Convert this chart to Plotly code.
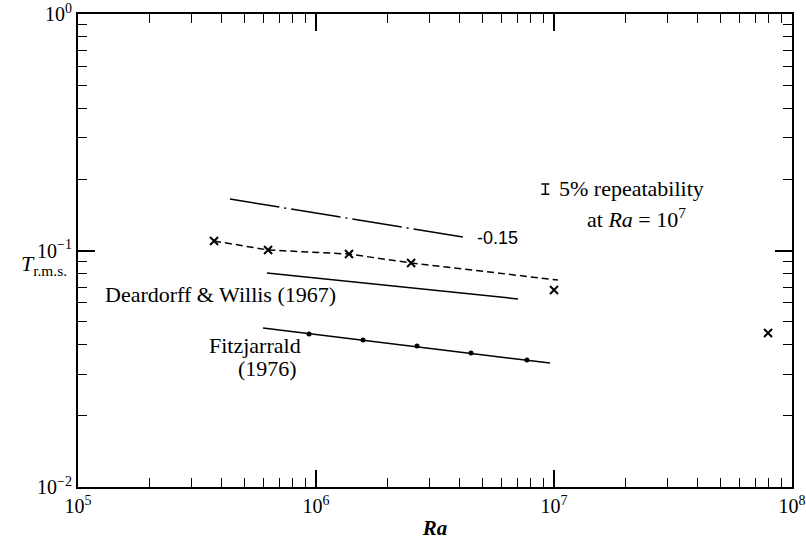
import numpy as np
import plotly.graph_objects as go

# ---- data ----
dashdot_x = [4.35e5, 4.15e6]
dashdot_y = [0.165, 0.114]

present_x = [3.73e5, 6.29e5, 1.376e6, 2.51e6]
present_y = [0.1097, 0.1005, 0.0966, 0.0886]
present_line_x = [3.73e5, 6.29e5, 1.376e6, 2.51e6, 1.039e7]
present_line_y = [0.1097, 0.1005, 0.0966, 0.0886, 0.0750]

dw_x = [6.22e5, 7.06e6]
dw_y = [0.0803, 0.0624]

fitz_line_x = [5.99e5, 9.62e6]
fitz_line_y = [0.0470, 0.03344]
fitz_x = [9.35e5, 1.576e6, 2.657e6, 4.48e6, 7.70e6]
fitz_y = [0.04436, 0.04183, 0.03947, 0.03686, 0.03443]

extra_x = [1.0e7, 7.93e7]
extra_y = [0.0681, 0.04478]

rep_x = [9.2e6]
rep_y = [0.182]

x_tickvals = [1e5, 1e6, 1e7, 1e8]
x_ticktext = ["10<sup>5</sup>", "10<sup>6</sup>", "10<sup>7</sup>", "10<sup>8</sup>"]
y_tickvals = [1e-2, 1e-1, 1e0]
y_ticktext = ["10<sup>−2</sup>", "10<sup>−1</sup>", "10<sup>0</sup>"]

x_minor = [m * 10 ** e for e in range(5, 8) for m in range(2, 10)]
y_minor = [m * 10.0 ** e for e in range(-2, 0) for m in range(2, 10)]

SERIF = "Liberation Serif"
fig = go.Figure()

fig.add_trace(go.Scatter(x=dashdot_x, y=dashdot_y, mode="lines",
                         line=dict(color="black", width=1.5, dash="50px,5px,2px,5px")))
fig.add_trace(go.Scatter(x=present_line_x, y=present_line_y, mode="lines",
                         line=dict(color="black", width=1.5, dash="7px,4px")))
fig.add_trace(go.Scatter(x=present_x, y=present_y, mode="markers",
                         marker=dict(symbol="x-thin", size=8, color="black",
                                     line=dict(width=2, color="black"))))
fig.add_trace(go.Scatter(x=dw_x, y=dw_y, mode="lines",
                         line=dict(color="black", width=1.5)))
fig.add_trace(go.Scatter(x=fitz_line_x, y=fitz_line_y, mode="lines",
                         line=dict(color="black", width=1.5)))
fig.add_trace(go.Scatter(x=fitz_x, y=fitz_y, mode="markers",
                         marker=dict(symbol="circle", size=5, color="black")))
fig.add_trace(go.Scatter(x=extra_x, y=extra_y, mode="markers",
                         marker=dict(symbol="x-thin", size=8, color="black",
                                     line=dict(width=2, color="black"))))
fig.add_trace(go.Scatter(x=rep_x, y=rep_y, mode="markers",
                         marker=dict(size=1, color="black"),
                         error_y=dict(type="percent", value=5, color="black",
                                      thickness=1.5, width=4)))

ax_common = dict(type="log", showgrid=False, zeroline=False, showline=True,
                 linecolor="black", linewidth=2, mirror="ticks", automargin=False,
                 ticks="inside", ticklen=17, tickwidth=1.5, tickcolor="black",
                 tickfont=dict(family=SERIF, size=20, color="black"),
                 tickmode="array")

fig.update_xaxes(**ax_common, range=[5, 8], tickvals=x_tickvals, ticktext=x_ticktext,
                 minor=dict(tickmode="array", tickvals=x_minor, ticks="inside",
                            ticklen=9, tickwidth=1.2, tickcolor="black"),
                 title=dict(text="<b><i>Ra</i></b>",
                            font=dict(family=SERIF, size=21, color="black"), standoff=4))
fig.update_yaxes(**ax_common, range=[-2, 0], tickvals=y_tickvals, ticktext=y_ticktext,
                 minor=dict(tickmode="array", tickvals=y_minor, ticks="inside",
                            ticklen=9, tickwidth=1.2, tickcolor="black"))

ann_font = dict(family=SERIF, size=22, color="black")
fig.add_annotation(x=np.log10(dashdot_x[1]), y=np.log10(dashdot_y[1]), xref="x", yref="y",
                   text="-0.15", showarrow=False, xanchor="left", xshift=12, yshift=-1,
                   font=dict(family="Liberation Sans", size=18, color="black"))
fig.add_annotation(x=5.597, y=-1.188, text="Deardorff &amp; Willis (1967)",
                   showarrow=False, font=ann_font)
fig.add_annotation(x=5.744, y=-1.400, text="Fitzjarrald", showarrow=False, font=ann_font)
fig.add_annotation(x=5.798, y=-1.497, text="(1976)", showarrow=False, font=ann_font)
fig.add_annotation(x=np.log10(rep_x[0]), y=np.log10(rep_y[0]), text="5% repeatability",
                   showarrow=False, xanchor="left", xshift=12, yshift=0, font=ann_font)
fig.add_annotation(x=np.log10(rep_x[0]), y=np.log10(rep_y[0]),
                   text="at <i>Ra</i> = 10<sup>7</sup>",
                   showarrow=False, xanchor="left", xshift=40, yshift=-29, font=ann_font)
fig.add_annotation(x=-0.012, y=0.47, xref="paper", yref="paper", xanchor="right",
                   text="<i>T</i><sub>r.m.s.</sub>", showarrow=False,
                   font=dict(family=SERIF, size=22, color="black"))

fig.update_layout(width=806, height=544, showlegend=False,
                  margin=dict(l=78, r=14, t=14, b=57, autoexpand=False),
                  plot_bgcolor="white", paper_bgcolor="white")

fig.write_html("out.html")
